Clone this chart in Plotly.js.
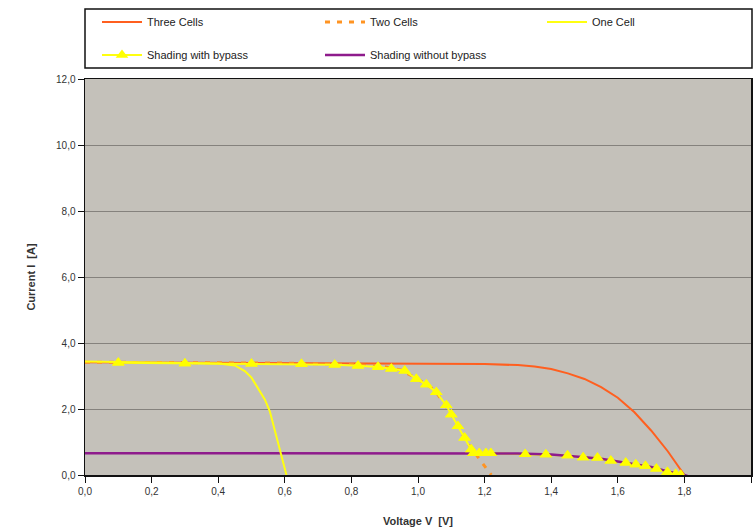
<!DOCTYPE html>
<html>
<head>
<meta charset="utf-8">
<script src="https://cdn.plot.ly/plotly-3.0.1.min.js"></script>
<style>html,body{margin:0;padding:0;background:#fff;}#chart{width:754px;height:532px;}</style>
</head>
<body>
<div id="chart"></div>
<script>
// ---- data ----
const threeV = [0, 0.2, 0.4, 0.6, 0.8, 1.0, 1.2, 1.3, 1.35, 1.4, 1.45, 1.5, 1.55, 1.6, 1.65, 1.7, 1.75, 1.8];
const threeI = [3.42, 3.41, 3.40, 3.39, 3.38, 3.37, 3.36, 3.33, 3.29, 3.21, 3.08, 2.91, 2.66, 2.34, 1.90, 1.35, 0.72, 0.0];

const twoV = [0, 0.2, 0.4, 0.6, 0.8, 0.9, 0.95, 1.0, 1.05, 1.1, 1.15, 1.18, 1.2, 1.22];
const twoI = [3.42, 3.41, 3.40, 3.39, 3.35, 3.28, 3.18, 2.90, 2.58, 1.85, 0.95, 0.55, 0.27, 0.0];

const oneV = [0, 0.1, 0.2, 0.3, 0.4, 0.45, 0.48, 0.5, 0.52, 0.54, 0.555, 0.575, 0.59, 0.605];
const oneI = [3.44, 3.42, 3.41, 3.40, 3.38, 3.32, 3.15, 2.95, 2.62, 2.29, 1.93, 1.18, 0.62, 0.0];

const bypassV = [0.1, 0.3, 0.5, 0.65, 0.75, 0.82, 0.88, 0.92, 0.96, 0.995, 1.025, 1.055, 1.085, 1.10, 1.12, 1.14, 1.16, 1.166, 1.184, 1.204, 1.219, 1.322, 1.384, 1.449, 1.496, 1.539, 1.579, 1.624, 1.654, 1.683, 1.716, 1.749, 1.774, 1.789];
const bypassI = [3.40, 3.38, 3.37, 3.36, 3.34, 3.31, 3.27, 3.22, 3.16, 2.91, 2.74, 2.51, 2.11, 1.83, 1.48, 1.13, 0.77, 0.66, 0.66, 0.66, 0.66, 0.63, 0.62, 0.59, 0.53, 0.52, 0.43, 0.37, 0.32, 0.27, 0.19, 0.09, 0.03, 0.0];

const noBypassV = [0, 0.5, 1.0, 1.2, 1.3, 1.4, 1.45, 1.5, 1.55, 1.6, 1.65, 1.7, 1.75, 1.8, 1.86];
const noBypassI = [0.66, 0.66, 0.66, 0.66, 0.65, 0.62, 0.59, 0.54, 0.49, 0.41, 0.33, 0.24, 0.11, 0.0, -0.2];

const names = ['Three Cells', 'Two Cells', 'One Cell', 'Shading with bypass', 'Shading without bypass'];
const yTicks = [0, 2, 4, 6, 8, 10, 12];
const xTicks = [0, 0.2, 0.4, 0.6, 0.8, 1.0, 1.2, 1.4, 1.6, 1.8, 2.0];

// ---- geometry helpers (pixels -> paper) ----
const L = 85, R = 751, T = 79, B = 475.5;
const px2x = p => (p - L) / (R - L);
const px2y = p => (B - p) / (B - T);

const yellow = '#FFFF10';
const bypassMarker = {symbol: 'triangle-up', size: 11, color: '#FFFF00'};

// draw order: bypass line under magenta line, bypass triangles on top
const traces = [
  {x: threeV, y: threeI, name: names[0], mode: 'lines', line: {color: '#FF5F1F', width: 2}, legend: 'legend'},
  {x: twoV, y: twoI, name: names[1], mode: 'lines', line: {color: '#FF9422', width: 3, dash: '5px,7px'}, legend: 'legend2'},
  {x: bypassV, y: bypassI, name: names[3], mode: 'lines+markers', line: {color: yellow, width: 2},
   marker: bypassMarker, legend: 'legend4'},
  {x: noBypassV, y: noBypassI, name: names[4], mode: 'lines', line: {color: '#8E1B8C', width: 2.5}, legend: 'legend5'},
  {x: oneV, y: oneI, name: names[2], mode: 'lines', line: {color: yellow, width: 2}, legend: 'legend3'},
  {x: bypassV, y: bypassI, name: names[3], mode: 'markers', marker: bypassMarker, showlegend: false, legend: 'legend4'}
];

const legFont = {family: 'Liberation Sans, Arial, sans-serif', size: 11, color: '#222'};
function leg(px, py) {
  return {x: px2x(px), y: px2y(py), xanchor: 'left', yanchor: 'middle', orientation: 'h',
          bgcolor: 'rgba(0,0,0,0)', borderwidth: 0, font: legFont, itemwidth: 40};
}

const layout = {
  width: 754, height: 532,
  margin: {l: L, r: 754 - R, t: T, b: 532 - B},
  paper_bgcolor: '#FFFFFF',
  plot_bgcolor: '#C4C1BA',
  separators: ', ',
  font: {family: 'Liberation Sans, Arial, sans-serif', size: 10, color: '#333'},
  showlegend: true,
  legend: leg(97, 22),
  legend2: leg(320, 22),
  legend3: leg(542, 22),
  legend4: leg(97, 55),
  legend5: leg(320, 55),
  xaxis: {
    range: [0, 2.0], tickvals: xTicks, tickformat: '.1f',
    showgrid: false, zeroline: false,
    showline: true, linecolor: '#111', linewidth: 1.5, mirror: true,
    ticks: 'outside', ticklen: 6, tickcolor: '#111', tickwidth: 1,
    tickfont: {size: 10, color: '#333'},
    title: {text: 'Voltage V  [V]', font: {size: 11, color: '#333', family: 'Liberation Sans, Arial, sans-serif', weight: 'bold'}, standoff: 22}
  },
  yaxis: {
    range: [0, 12], tickvals: yTicks, tickformat: '.1f',
    showgrid: true, gridcolor: '#85827D', gridwidth: 1, zeroline: false,
    showline: true, linecolor: '#111', linewidth: 1.5, mirror: true,
    ticks: 'outside', ticklen: 6, tickcolor: '#111', tickwidth: 1,
    tickfont: {size: 10, color: '#333'},
    title: {text: 'Current I  [A]', font: {size: 11, color: '#333', family: 'Liberation Sans, Arial, sans-serif', weight: 'bold'}, standoff: 18}
  },
  shapes: [
    {type: 'rect', xref: 'paper', yref: 'paper', x0: px2x(85), x1: px2x(752), y0: px2y(68), y1: px2y(9),
     line: {color: '#111', width: 1.5}, fillcolor: 'rgba(0,0,0,0)', layer: 'above'}
  ]
};

Plotly.newPlot('chart', traces, layout, {displayModeBar: false, staticPlot: true});
</script>
</body>
</html>
